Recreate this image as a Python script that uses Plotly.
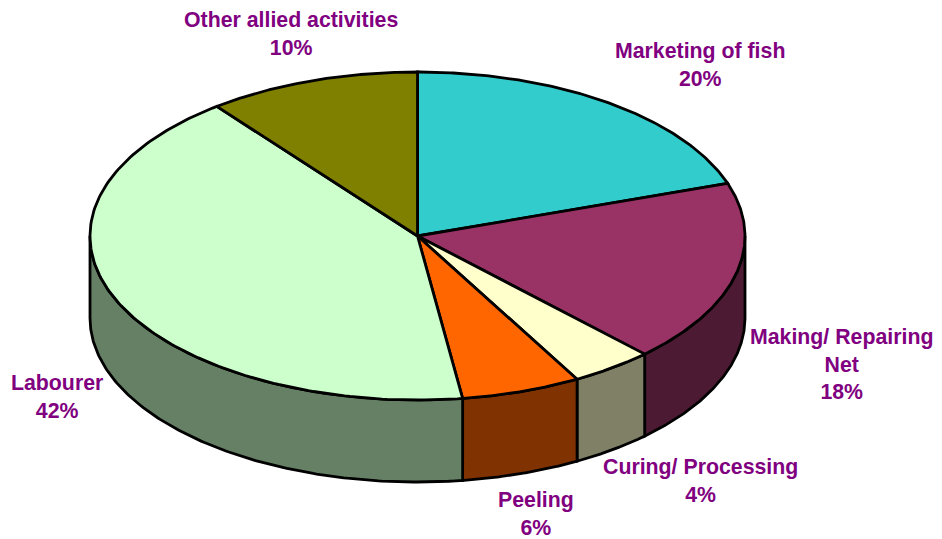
import numpy as np
import plotly.graph_objects as go

# Data
categories = ["Marketing of fish", "Making/ Repairing<br>Net", "Curing/ Processing", "Peeling", "Labourer", "Other allied activities"]
values = [19.8, 18.0, 4.1, 5.9, 41.7, 10.5]
percent_labels = ["20%", "18%", "4%", "6%", "42%", "10%"]

# Style
top_colors = ["#33CCCC", "#993366", "#FFFFCC", "#FF6600", "#CCFFCC", "#808000"]
side_colors = ["#1A6666", "#4D1A33", "#808066", "#803300", "#668066", "#404000"]
label_xy = [(700, 64.5), (841, 364.5), (700.5, 480.5), (536, 513.5), (57, 396.5), (291, 33.5)]
CX, CY, RX, RY, DEPTH = 417.5, 236, 327.5, 164, 82
LINE = dict(color="black", width=2.8)
W, H = 942, 539
PAGE_MARGIN = 8


def arc(a0, a1, n=160):
    """Points on the top ellipse; angles are clockwise from 12 o'clock, degrees."""
    t = np.radians(np.linspace(a0, a1, n))
    return CX + RX * np.sin(t), CY - RY * np.cos(t)


fig = go.Figure()
edges = np.cumsum([0] + values) / sum(values) * 360

# Side walls (only the front half of the rim, 90-270 degrees, is visible)
for i, name in enumerate(categories):
    a0, a1 = max(edges[i], 90), min(edges[i + 1], 270)
    if a1 <= a0:
        continue
    x, y = arc(a0, a1)
    xs = np.r_[x, x[::-1], x[0]]
    ys = np.r_[y, y[::-1] + DEPTH, y[0]]
    fig.add_trace(go.Scatter(x=xs, y=ys, mode="lines", fill="toself",
                             fillcolor=side_colors[i], line=LINE, hoverinfo="skip"))

# Top faces
for i, name in enumerate(categories):
    x, y = arc(edges[i], edges[i + 1])
    fig.add_trace(go.Scatter(x=np.r_[CX, x, CX], y=np.r_[CY, y, CY], mode="lines",
                             fill="toself", fillcolor=top_colors[i], line=LINE,
                             name=name.replace("<br>", " "),
                             text=percent_labels[i], hoverinfo="name+text"))

# Labels
for name, pct, (lx, ly) in zip(categories, percent_labels, label_xy):
    fig.add_annotation(x=lx, y=ly, text=f"<b>{name}<br>{pct}</b>", showarrow=False,
                       align="center", font=dict(family="Liberation Sans", size=21.3, color="#800080"))

fig.update_xaxes(range=[PAGE_MARGIN, W], visible=False, fixedrange=True)
fig.update_yaxes(range=[H, PAGE_MARGIN], visible=False, fixedrange=True)
fig.update_layout(width=W - PAGE_MARGIN, height=H - PAGE_MARGIN, margin=dict(l=0, r=0, t=0, b=0),
                  showlegend=False, plot_bgcolor="white", paper_bgcolor="white")
fig.write_html("out.html")
